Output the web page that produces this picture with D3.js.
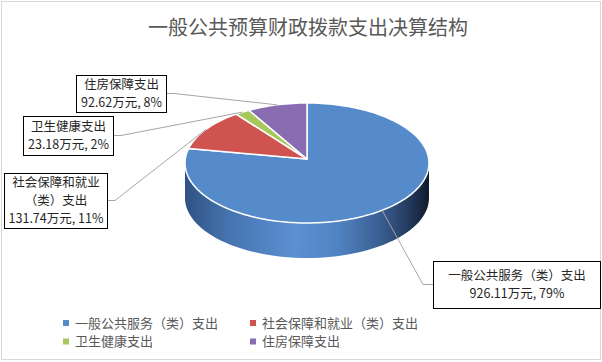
<!DOCTYPE html>
<html>
<head>
<meta charset="utf-8">
<script src="https://cdn.jsdelivr.net/npm/d3@7"></script>
<style>
  body { margin: 0; background: #fff; }
  svg { display: block; font-family: "Noto Sans CJK SC", "Noto Sans", sans-serif; }
</style>
</head>
<body>
<svg id="chart" width="602" height="362"></svg>
<script>
const categories = ["一般公共服务（类）支出", "社会保障和就业（类）支出", "卫生健康支出", "住房保障支出"];
const values = [926.11, 131.74, 23.18, 92.62];
const percents = ["79%", "11%", "2%", "8%"];
const colors = ["#558bcb", "#cf5450", "#a5c75c", "#8a6cb2"];

// label boxes (layout only)
const labelBoxes = [
  { x: 433, y: 261, w: 167, h: 47, lines: ["一般公共服务（类）支出"], side: "left" },
  { x: 4, y: 173, w: 103, h: 55, lines: ["社会保障和就业", "（类）支出"], side: "right" },
  { x: 23, y: 116, w: 90, h: 39, lines: ["卫生健康支出"], side: "right" },
  { x: 76, y: 75, w: 90, h: 37, lines: ["住房保障支出"], side: "right" }
];

const W = 602, H = 362;
const cx = 307, cy = 163, rx = 122, ry = 60, depth = 35;
const apexY = cy - 4;

const svg = d3.select("#chart");

svg.append("rect")
  .attr("x", 1.5).attr("y", 1.5)
  .attr("width", W - 3).attr("height", H - 4)
  .attr("fill", "#fff").attr("stroke", "#d9d9d9");

svg.append("text")
  .attr("x", 308).attr("y", 35)
  .attr("text-anchor", "middle")
  .attr("font-size", 20)
  .attr("fill", "#595959")
  .text("一般公共预算财政拨款支出决算结构");

const data = categories.map((c, i) => ({ name: c, value: values[i], pct: percents[i], color: colors[i] }));
const arcs = d3.pie().sort(null).value(d => d.value).startAngle(0).endAngle(2 * Math.PI)(data);

// ellipse point for angle measured clockwise from 12 o'clock
const pt = (a, dy = 0) => [cx + rx * Math.sin(a), cy - ry * Math.cos(a) + dy];

// side gradient
const defs = svg.append("defs");
const grad = defs.append("linearGradient")
  .attr("id", "side").attr("gradientUnits", "userSpaceOnUse")
  .attr("x1", cx - rx).attr("x2", cx + rx).attr("y1", 0).attr("y2", 0);
[[0, "#2f5283"], [0.18, "#4674b0"], [0.45, "#5b8fd2"], [0.62, "#5184c3"], [0.8, "#3a5f92"], [0.92, "#22395c"], [1, "#0f1a2c"]]
  .forEach(([o, c]) => grad.append("stop").attr("offset", o).attr("stop-color", c));

// front side of the cylinder (angles 90..270 deg)
const sideSteps = d3.range(0, 61).map(i => Math.PI / 2 + (Math.PI * i) / 60);
const topFront = sideSteps.map(a => pt(a));
const botFront = sideSteps.map(a => pt(a, depth)).reverse();
svg.append("path")
  .attr("d", d3.line()(topFront.concat(botFront)) + "Z")
  .attr("fill", "url(#side)");

// top slices
arcs.forEach(a => {
  const n = Math.max(4, Math.ceil((a.endAngle - a.startAngle) / 0.03));
  const pts = d3.range(n + 1).map(i => pt(a.startAngle + (a.endAngle - a.startAngle) * i / n));
  svg.append("path")
    .attr("d", d3.line()([[cx, apexY]].concat(pts)) + "Z")
    .attr("fill", a.data.color)
    .attr("stroke", "#fff")
    .attr("stroke-width", 1.5)
    .attr("stroke-linejoin", "round");
});

// leader lines and label boxes
arcs.forEach((a, i) => {
  const b = labelBoxes[i];
  const mid = (a.startAngle + a.endAngle) / 2;
  const end = pt(mid);
  const my = b.y + b.h / 2;
  const sx = b.side === "right" ? b.x + b.w : b.x;
  const kx = b.side === "right" ? sx + 8 : sx - 10;
  svg.append("polyline")
    .attr("points", [[sx, my], [kx, my], end].map(p => p.join(",")).join(" "))
    .attr("fill", "none")
    .attr("stroke", "#a6a6a6")
    .attr("stroke-width", 1);

  svg.append("rect")
    .attr("x", b.x + 0.5).attr("y", b.y + 0.5)
    .attr("width", b.w).attr("height", b.h)
    .attr("fill", "#fff").attr("stroke", "#000");

  const lines = b.lines.concat([`${d3.format(".2f")(a.data.value)}万元, ${a.data.pct}`]);
  const lh = 18.2;
  const top = b.y + b.h / 2 - (lines.length - 1) * lh / 2;
  lines.forEach((t, j) => {
    svg.append("text")
      .attr("x", b.x + b.w / 2 + 0.5)
      .attr("y", top + j * lh)
      .attr("dy", "0.36em")
      .attr("text-anchor", "middle")
      .attr("font-size", 12.5)
      .attr("fill", "#262626")
      .text(t);
  });
});

// legend
const legend = svg.append("g");
data.forEach((d, i) => {
  const col = i % 2, row = Math.floor(i / 2);
  const x = col === 0 ? 63 : 250;
  const y = 323 + row * 18.5;
  legend.append("rect")
    .attr("x", x).attr("y", y - 3)
    .attr("width", 6).attr("height", 6)
    .attr("fill", d.color);
  legend.append("text")
    .attr("x", x + 12).attr("y", y)
    .attr("dy", "0.36em")
    .attr("font-size", 13)
    .attr("fill", "#595959")
    .text(d.name);
});
</script>
</body>
</html>
